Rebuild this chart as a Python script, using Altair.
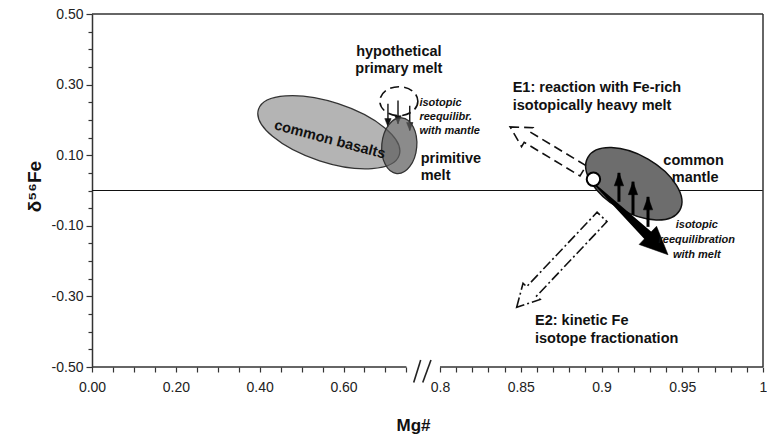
import altair as alt
import pandas as pd

FONT = "Liberation Sans"
INK = "#111111"

# ---------------- data ----------------
X_TICKS_LEFT = [0.00, 0.05, 0.10, 0.15, 0.20, 0.25, 0.30, 0.35, 0.40, 0.45,
                0.50, 0.55, 0.60, 0.65, 0.70, 0.75]
X_TICKS_RIGHT = [0.80, 0.81, 0.82, 0.83, 0.84, 0.85, 0.86, 0.87, 0.88, 0.89,
                 0.90, 0.91, 0.92, 0.93, 0.94, 0.95, 0.96, 0.97, 0.98, 0.99, 1.00]
Y_TICKS = [-0.50, -0.45, -0.40, -0.35, -0.30, -0.25, -0.20, -0.15, -0.10, -0.05,
           0.00, 0.05, 0.10, 0.15, 0.20, 0.25, 0.30, 0.35, 0.40, 0.45, 0.50]

# frame segments (top, right, bottom-left, bottom-right)
FRAME_X0 = [0.0, 1.0, 0.0, 0.8]
FRAME_X1 = [1.0, 1.0, 0.75, 1.0]
FRAME_Y0 = [0.5, -0.5, -0.5, -0.5]
FRAME_Y1 = [0.5, 0.5, -0.5, -0.5]

# zero line
ZERO_X0 = [0.0]
ZERO_X1 = [1.0]
ZERO_Y = [0.0]

# axis break "//"
SLASH_X0 = [0.7674, 0.789]
SLASH_X1 = [0.7841, 0.7944]
SLASH_Y0 = [-0.5440, -0.5440]
SLASH_Y1 = [-0.4800, -0.4800]

# fields (ellipse centres)
BASALT_X, BASALT_Y = [0.565], [0.165]
MELT_X, MELT_Y = [0.733], [0.127]
PRIMARY_X, PRIMARY_Y = [0.732], [0.253]
MANTLE_X, MANTLE_Y = [0.920], [0.019]
DOT_X, DOT_Y = [0.895], [0.032]

# reequilibration arrows (primary melt -> primitive melt)
DOWN_X = [0.706, 0.730, 0.758]
DOWN_Y0 = [0.246, 0.255, 0.240]
DOWN_Y1 = [0.181, 0.189, 0.170]

# reequilibration arrows inside mantle
UP_X = [0.9108, 0.9195, 0.9288]
UP_Y0 = [-0.032, -0.069, -0.103]
UP_Y1 = [0.050, 0.025, -0.018]

# big black arrow: tail, neck, tip
BIG_X = [0.8954, 0.9287, 0.9412]
BIG_Y = [0.019, -0.127, -0.182]

# hollow arrows E1, E2 (centres)
E1_X, E1_Y = [0.866], [0.118]
E2_X, E2_Y = [0.8739], [-0.2027]

# labels
BOLD_LEFT_TEXT = ["primitive", "melt", "E1: reaction with Fe-rich",
                  "isotopically heavy melt", "E2: kinetic Fe", "isotope fractionation"]
BOLD_LEFT_X = [0.784, 0.784, 0.845, 0.845, 0.8588, 0.8588]
BOLD_LEFT_Y = [0.090, 0.042, 0.2915, 0.240, -0.3697, -0.4207]

BOLD_CENTER_TEXT = ["hypothetical", "primary melt", "common", "mantle"]
BOLD_CENTER_X = [0.732, 0.732, 0.957, 0.958]
BOLD_CENTER_Y = [0.391, 0.343, 0.0844, 0.035]

ITALIC_LEFT_TEXT = ["isotopic", "reequilibr.", "with mantle"]
ITALIC_LEFT_X = [0.781, 0.781, 0.781]
ITALIC_LEFT_Y = [0.2479, 0.2082, 0.1686]

ITALIC_CENTER_TEXT = ["isotopic", "reequilibration", "with melt"]
ITALIC_CENTER_X = [0.959, 0.959, 0.959]
ITALIC_CENTER_Y = [-0.0972, -0.1397, -0.1824]

ROT_TEXT = ["common basalts"]
ROT_X = [0.567]
ROT_Y = [0.143]

# ---------------- broken x-axis mapping ----------------
X_BREAK = 0.79
U_RIGHT0 = 0.8302
K_RIGHT = 3.8525
U_MAX = 1.6007


def u_expr(f):
    return f"datum.{f} < {X_BREAK} ? datum.{f} : {U_RIGHT0} + (datum.{f} - 0.8) * {K_RIGHT}"


U_TICKS = X_TICKS_LEFT + [U_RIGHT0 + (v - 0.8) * K_RIGHT for v in X_TICKS_RIGHT]

inv = f"(0.8 + (datum.value - {U_RIGHT0}) / {K_RIGHT})"
X_LABEL_EXPR = (
    f"datum.value < {X_BREAK} ? ((round(datum.value * 100) % 20 == 0) ? format(datum.value, '.2f') : '')"
    f" : ((round({inv} * 100) % 5 == 0) ? format({inv}, '.2~f') : '')"
)
Y_MAJOR_TEST = "(round(datum.value * 100) + 50) % 20 == 0"
Y_LABEL_EXPR = (f"{Y_MAJOR_TEST} ? "
                "(datum.value < 0 ? '-' : '') + format(abs(datum.value), '.2f') : ''")

XS = alt.Scale(domain=[0, U_MAX], nice=False, zero=False)
YS = alt.Scale(domain=[-0.5, 0.5], nice=False, zero=False)

XA = alt.Axis(values=U_TICKS, labelExpr=X_LABEL_EXPR, domain=False, grid=False,
              ticks=True, tickSize=5, tickColor="#333", tickWidth=1.2,
              labelFont=FONT, labelFontSize=14, labelColor="#222", labelPadding=8,
              labelFlush=False, labelOverlap=False,
              title="Mg#", titleFont=FONT, titleFontSize=17, titleFontWeight="bold",
              titleColor=INK, titleX=321, titleY=58, titleBaseline="middle",
              titleAlign="center")
YA = alt.Axis(values=Y_TICKS, labelExpr=Y_LABEL_EXPR, domain=True, domainColor="#333",
              domainWidth=1.5, grid=False,
              tickSize={"condition": {"test": Y_MAJOR_TEST, "value": 6}, "value": 4},
              tickColor="#333", tickWidth=1.2,
              labelFont=FONT, labelFontSize=14, labelColor="#222", labelPadding=3,
              labelFlush=False, labelOverlap=False,
              title="δ⁵⁶Fe", titleFont=FONT, titleFontSize=19, titleFontWeight="bold",
              titleColor=INK, titleX=-58, titleY=172, titleAngle=270,
              titleBaseline="middle", titleAlign="center")


def X(f):
    return alt.X(f"u_{f}:Q", scale=XS, axis=XA)


def Y(f):
    return alt.Y(f"{f}:Q", scale=YS, axis=YA)


def chart(df, xfields):
    c = alt.Chart(df)
    return c.transform_calculate(**{f"u_{f}": u_expr(f) for f in xfields})


# ---------------- shapes (styles) ----------------
def ellipse_path(r):
    k = 0.5523
    return (f"M1,0C1,{k*r:.4f} {k:.4f},{r:.4f} 0,{r:.4f}"
            f"C{-k:.4f},{r:.4f} -1,{k*r:.4f} -1,0"
            f"C-1,{-k*r:.4f} {-k:.4f},{-r:.4f} 0,{-r:.4f}"
            f"C{k:.4f},{-r:.4f} 1,{-k*r:.4f} 1,0Z")


def head_path(half_w):
    return f"M0,0L{half_w},1L{-half_w},1Z"


def hollow_path(head_len, head_hw, shaft_hw):
    hy = -1 + head_len
    return (f"M0,-1L{head_hw},{hy:.3f}L{shaft_hw},{hy:.3f}L{shaft_hw},1"
            f"L{-shaft_hw},1L{-shaft_hw},{hy:.3f}L{-head_hw},{hy:.3f}Z")


def ellipse_layer(xs, ys, a, b, angle, fill, stroke, sw=1.3, dash=None, fill_opacity=1.0, filled=True):
    df = pd.DataFrame({"x": xs, "y": ys})
    kw = dict(shape=ellipse_path(b / a), size=(2 * a) ** 2, angle=angle,
              stroke=stroke, strokeWidth=sw, opacity=1)
    if filled:
        kw.update(filled=True, fill=fill, fillOpacity=fill_opacity)
    else:
        kw.update(filled=False, fillOpacity=0)
    if dash:
        kw["strokeDash"] = dash
    return chart(df, ["x"]).mark_point(**kw).encode(x=X("x"), y=Y("y"))


def rule_layer(x0, x1, y0, y1, color="#222", width=1.5, dash=None):
    df = pd.DataFrame({"x0": x0, "x1": x1, "y0": y0, "y1": y1})
    kw = dict(color=color, strokeWidth=width)
    if dash:
        kw["strokeDash"] = dash
    return chart(df, ["x0", "x1"]).mark_rule(**kw).encode(
        x=X("x0"), x2=alt.X2("u_x1:Q"), y=Y("y0"), y2=alt.Y2("y1:Q"))


def head_layer(xs, ys, half_w, length, angle, color="black"):
    df = pd.DataFrame({"x": xs, "y": ys})
    return chart(df, ["x"]).mark_point(
        shape=head_path(half_w), size=(2 * length) ** 2, angle=angle,
        filled=True, fill=color, stroke=color, strokeWidth=0.5, opacity=1
    ).encode(x=X("x"), y=Y("y"))


def text_layer(texts, xs, ys, align, size, italic=False, angle=0):
    df = pd.DataFrame({"x": xs, "y": ys, "t": texts})
    kw = dict(align=align, baseline="middle", font=FONT, fontSize=size,
              fontWeight="bold", color=INK)
    if italic:
        kw["fontStyle"] = "italic"
    if angle:
        kw["angle"] = angle
    return chart(df, ["x"]).mark_text(**kw).encode(x=X("x"), y=Y("y"), text="t:N")


layers = []

# zero line and frame
layers.append(rule_layer(ZERO_X0, ZERO_X1, ZERO_Y, ZERO_Y, color="#111", width=1.1))
layers.append(rule_layer(FRAME_X0, FRAME_X1, FRAME_Y0, FRAME_Y1, color="#333", width=1.5))
layers.append(rule_layer(SLASH_X0, SLASH_X1, SLASH_Y0, SLASH_Y1, color="#222", width=1.6))

# common basalts
layers.append(ellipse_layer(BASALT_X, BASALT_Y, 74, 30, 18, "#b4b4b4", "#333"))

# primary melt and reequilibration arrows
layers.append(rule_layer(DOWN_X, DOWN_X, DOWN_Y0, DOWN_Y1, color="#111", width=1.4))
layers.append(head_layer(DOWN_X, DOWN_Y1, 0.4, 8, 180, color="#111"))
layers.append(ellipse_layer(PRIMARY_X, PRIMARY_Y, 19, 14.5, 0, None, "#111",
                            sw=1.6, dash=[9, 5], filled=False))

# primitive melt (semi-transparent)
layers.append(ellipse_layer(MELT_X, MELT_Y, 28, 17.5, 95, "#5e5e5e", "#333",
                            fill_opacity=0.72))

# common mantle
layers.append(ellipse_layer(MANTLE_X, MANTLE_Y, 53, 28.5, 30, "#6d6d6d", "#111", sw=1.5))

# hollow arrows E1 (dashed) and E2 (dash-dot)
e1 = pd.DataFrame({"x": E1_X, "y": E1_Y})
layers.append(chart(e1, ["x"]).mark_point(
    shape=hollow_path(0.47, 0.26, 0.14), size=(2 * 42.6) ** 2, angle=301.1,
    filled=False, stroke="#111", strokeWidth=1.6, strokeDash=[9, 5], opacity=1
).encode(x=X("x"), y=Y("y")))
e2 = pd.DataFrame({"x": E2_X, "y": E2_Y})
layers.append(chart(e2, ["x"]).mark_point(
    shape=hollow_path(0.35, 0.19, 0.11), size=(2 * 62.1) ** 2, angle=223.4,
    filled=False, stroke="#111", strokeWidth=1.6, strokeDash=[10, 3, 2, 3], opacity=1
).encode(x=X("x"), y=Y("y")))

# big black arrow
big = pd.DataFrame({"x": BIG_X[:2], "y": BIG_Y[:2], "w": [1.5, 10], "o": [0, 1]})
layers.append(chart(big, ["x"]).mark_trail(color="black", opacity=1).encode(
    x=X("x"), y=Y("y"), size=alt.Size("w:Q", scale=None, legend=None), order="o:Q"))
layers.append(head_layer(BIG_X[2:], BIG_Y[2:], 0.45, 28, 133.8))

# up arrows in mantle
layers.append(rule_layer(UP_X, UP_X, UP_Y0, UP_Y1, color="black", width=3))
layers.append(head_layer(UP_X, UP_Y1, 0.36, 13, 0))

# white circle
dot = pd.DataFrame({"x": DOT_X, "y": DOT_Y})
layers.append(chart(dot, ["x"]).mark_point(
    shape="circle", size=180, filled=True, fill="white", stroke="black",
    strokeWidth=2, opacity=1).encode(x=X("x"), y=Y("y")))

# texts
layers.append(text_layer(BOLD_LEFT_TEXT, BOLD_LEFT_X, BOLD_LEFT_Y, "left", 14.5))
layers.append(text_layer(BOLD_CENTER_TEXT, BOLD_CENTER_X, BOLD_CENTER_Y, "center", 14.5))
layers.append(text_layer(ITALIC_LEFT_TEXT, ITALIC_LEFT_X, ITALIC_LEFT_Y, "left", 11, italic=True))
layers.append(text_layer(ITALIC_CENTER_TEXT, ITALIC_CENTER_X, ITALIC_CENTER_Y, "center", 11, italic=True))
layers.append(text_layer(ROT_TEXT, ROT_X, ROT_Y, "center", 14.5, angle=15))

final = alt.layer(*layers).properties(
    width=671, height=353,
    padding={"left": 92, "top": 14, "right": 4, "bottom": 70},
    autosize=alt.AutoSizeParams(type="none"),
    background="white",
).configure_view(stroke=None)

final.save("out.html", embed_options={"renderer": "svg", "actions": False})
